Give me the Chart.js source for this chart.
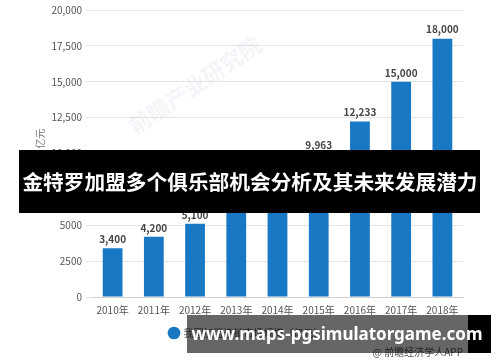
<!DOCTYPE html>
<html>
<head>
<meta charset="utf-8">
<script src="https://cdn.jsdelivr.net/npm/chart.js@4"></script>
<style>
    body { margin: 0; background: #fff; }
    #wrap { position: relative; width: 500px; height: 362px; overflow: hidden; font-family: "Noto Sans CJK SC", "Noto Sans", sans-serif; }
    .edge { position: absolute; background: #000; }
    .shade { position: absolute; background: rgba(0, 0, 0, 0.6); }
    .banner-text { position: absolute; color: #fff; font-weight: bold; text-align: center; white-space: nowrap; }
    #source { position: absolute; right: 37px; top: 344px; font-size: 10px; color: #555; }
</style>
</head>
<body>
<div id="wrap">
    <canvas id="chart" width="500" height="362"></canvas>
    <div id="source">@ 前瞻经济学人APP</div>

    <!-- 中间标题横幅 -->
    <div class="edge" style="left:19px; top:150px; width:461px; height:63px;"></div>
    <div class="shade" style="left:31px; top:150px; width:437px; height:63px;"></div>
    <div class="banner-text" style="left:0px; top:150px; width:500px; height:63px; line-height:63px; font-size:20.7px; font-family:'Noto Sans CJK SC';">金特罗加盟多个俱乐部机会分析及其未来发展潜力</div>

    <!-- 底部网址横幅 -->
    <div class="edge" style="left:468px; top:315px; width:23px; height:38px;"></div>
    <div class="shade" style="left:187px; top:315px; width:281px; height:38px;"></div>
    <div class="banner-text" style="left:187px; top:315px; width:300px; height:38px; line-height:38px; font-size:17px; font-family:'Noto Sans', sans-serif;">www.maps-pgsimulatorgame.com</div>
</div>

<script>
// 年份与市场规模（亿元）
const years = ['2010年', '2011年', '2012年', '2013年', '2014年', '2015年', '2016年', '2017年', '2018年'];
const marketSize = [3400, 4200, 5100, 6541, 8100, 9963, 12233, 15000, 18000];
const yTicks = [0, 2500, 5000, 7500, 10000, 12500, 15000, 17500, 20000];

const fmtComma = (v) => v.toLocaleString('en-US');

// 柱顶数值标签 + 淡水印
const barLabels = {
    id: 'barLabels',
    beforeDatasetsDraw(chart) {
        const { ctx } = chart;
        ctx.save();
        ctx.translate(195, 85);
        ctx.rotate(-34 * Math.PI / 180);
        ctx.font = 'bold 22px "Noto Sans CJK SC"';
        ctx.fillStyle = 'rgba(190, 200, 215, 0.18)';
        ctx.textAlign = 'center';
        ctx.fillText('前瞻产业研究院', 0, 0);
        ctx.restore();
    },
    afterDatasetsDraw(chart) {
        const { ctx } = chart;
        const meta = chart.getDatasetMeta(0);
        ctx.save();
        ctx.font = 'bold 10px "Noto Sans CJK SC", "Noto Sans"';
        ctx.fillStyle = '#444';
        ctx.textAlign = 'center';
        ctx.textBaseline = 'bottom';
        meta.data.forEach((bar, i) => {
            ctx.fillText(fmtComma(marketSize[i]), bar.x, bar.y - 4);
        });
        ctx.restore();
    }
};

new Chart(document.getElementById('chart'), {
    type: 'bar',
    data: {
        labels: years,
        datasets: [{
            label: '我国加盟连锁市场规模（亿元）',
            data: marketSize,
            backgroundColor: '#1878c4',
            barPercentage: 0.48,
            categoryPercentage: 1
        }]
    },
    options: {
        responsive: false,
        animation: false,
        devicePixelRatio: 1,
        layout: { padding: { top: 8, right: 37, left: 30, bottom: 14 } },
        font: { family: '"Noto Sans CJK SC", "Noto Sans", sans-serif' },
        plugins: {
            legend: {
                position: 'bottom',
                labels: {
                    usePointStyle: true,
                    pointStyle: 'circle',
                    boxWidth: 9,
                    boxHeight: 9,
                    padding: 2,
                    color: '#555',
                    font: { size: 10, family: '"Noto Sans CJK SC"' }
                }
            },
            tooltip: { enabled: false }
        },
        scales: {
            x: {
                grid: { display: false, drawTicks: false },
                border: { display: true, color: '#cfcfcf' },
                afterFit: (scale) => { scale.height = 29; },
                ticks: { color: '#555', padding: 7, font: { size: 10, family: '"Noto Sans CJK SC"' } }
            },
            y: {
                min: 0,
                max: 20000,
                afterFit: (scale) => { scale.width = 62; },
                afterBuildTicks: (scale) => { scale.ticks = yTicks.map(v => ({ value: v })); },
                grid: { color: '#e4e4e4', tickLength: 6, drawTicks: true },
                border: { display: false },
                title: {
                    display: true,
                    text: '单位：亿元',
                    color: '#777',
                    font: { size: 10, family: '"Noto Sans CJK SC"' }
                },
                ticks: {
                    color: '#555',
                    padding: 4,
                    font: { size: 10, family: '"Noto Sans CJK SC"' },
                    callback: (v) => v >= 10000 ? fmtComma(v) : String(v)
                }
            }
        }
    },
    plugins: [barLabels]
});
</script>
</body>
</html>
